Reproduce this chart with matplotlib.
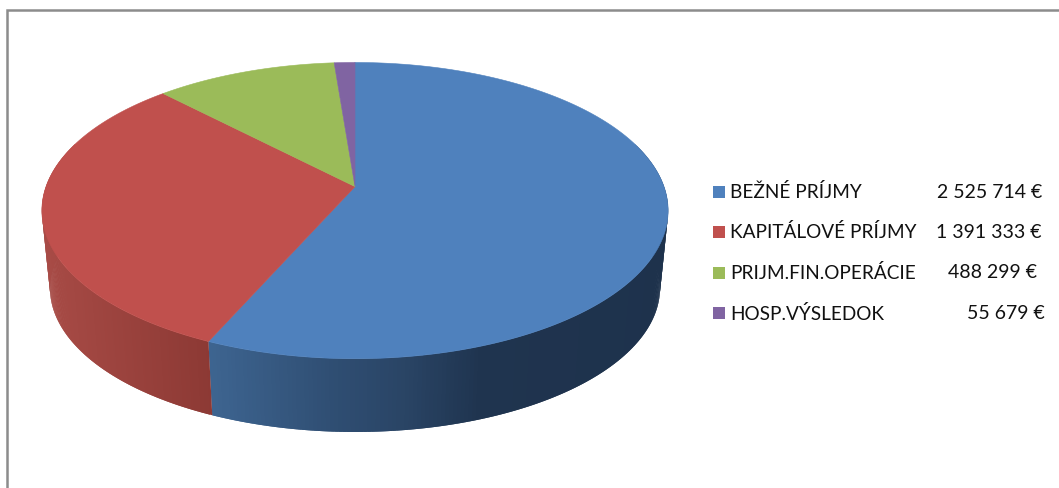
import numpy as np
import matplotlib
matplotlib.use("Agg")
import matplotlib.pyplot as plt
from matplotlib.patches import Polygon, Rectangle
from matplotlib.colors import to_rgb

categories = ["BEŽNÉ PRÍJMY", "KAPITÁLOVÉ PRÍJMY", "PRIJM.FIN.OPERÁCIE", "HOSP.VÝSLEDOK"]
values = [2525714, 1391333, 488299, 55679]
value_labels = ["2 525 714 €", "1 391 333 €", "488 299 €", "55 679 €"]
top_colors = ["#4f81bd", "#c0504d", "#9bbb59", "#8064a2"]

plt.rcParams['font.family'] = ['Lato', 'DejaVu Sans']
W, H = 1059, 488
fig = plt.figure(figsize=(W / 100, H / 100), dpi=100)
ax = fig.add_axes([0, 0, 1, 1])
ax.set_xlim(0, W)
ax.set_ylim(H, 0)
ax.axis("off")

# Projection of the pie (circle seen in perspective), in figure pixels
CX, APEX_Y, PERSP = 355.0, 186.6, -0.162
def project(theta, rx, a, b):
    u, v = np.sin(theta), -np.cos(theta)
    d = 1 + PERSP * v
    return CX + rx * u / d, (a * v + b) / d
def top(theta):
    return project(theta, 309, 114, APEX_Y)
def bottom(theta):
    return project(theta, 301, 97.3, 264.7)

total = sum(values)
edges = 2 * np.pi * np.concatenate([[0], np.cumsum(values)]) / total

# Side wall shading: (x pixel, colour)
blue_x = [205, 330, 400, 480, 680]
blue_c = [to_rgb(c) for c in ["#3e6591", "#2f4e73", "#2a4566", "#1f344f", "#1e324c"]]
red_x = [40, 210]
red_c = [to_rgb(c) for c in ["#a84b46", "#8c3934"]]
def shade(x, xs, cs):
    return tuple(np.interp(x, xs, [c[i] for c in cs]) for i in range(3))

# Side wall strips: each one overlaps the next so that no seams show
for i, (xs, cs) in enumerate([(blue_x, blue_c), (red_x, red_c)]):
    t = np.linspace(max(edges[i], np.pi * 0.4), min(edges[i + 1], np.pi * 1.6), 200)
    for j in range(len(t) - 1):
        t0, t1 = t[j], t[min(j + 2, len(t) - 1)]
        xa, ya = top(t0); xb, yb = top(t1)
        xc, yc = bottom(t1); xd, yd = bottom(t0)
        col = shade((xa + xb) / 2, xs, cs)
        ax.add_patch(Polygon([(xa, ya), (xb, yb), (xc, yc), (xd, yd)],
                             closed=True, fc=col, ec="none", zorder=2))

# Top face
for i, col in enumerate(top_colors):
    t = np.linspace(edges[i], edges[i + 1], 300)
    x, y = top(t)
    pts = np.column_stack([np.r_[CX, x], np.r_[APEX_Y, y]])
    ax.add_patch(Polygon(pts, closed=True, fc=col, ec=col, lw=0.4, zorder=3))

# Legend
legend_y = [192, 232.5, 273, 313.5]
value_right = [1042, 1041, 1037, 1045]
for name, label, col, y, r in zip(categories, value_labels, top_colors, legend_y, value_right):
    ax.add_patch(Rectangle((713, y - 6.5), 12, 12, fc=col, ec="none", zorder=4))
    ax.text(730, y, name, fontsize=13.7, color="#111111", va="center", ha="left")
    ax.text(r, y, label, fontsize=14, color="#111111", va="center", ha="right")

# Frame, open to the right and the bottom
ax.plot([7, 7, W], [H, 10.2, 10.2], color="#8c8c8c", lw=1.8, solid_joinstyle="miter", zorder=1)

fig.savefig("out.png", dpi=100)
